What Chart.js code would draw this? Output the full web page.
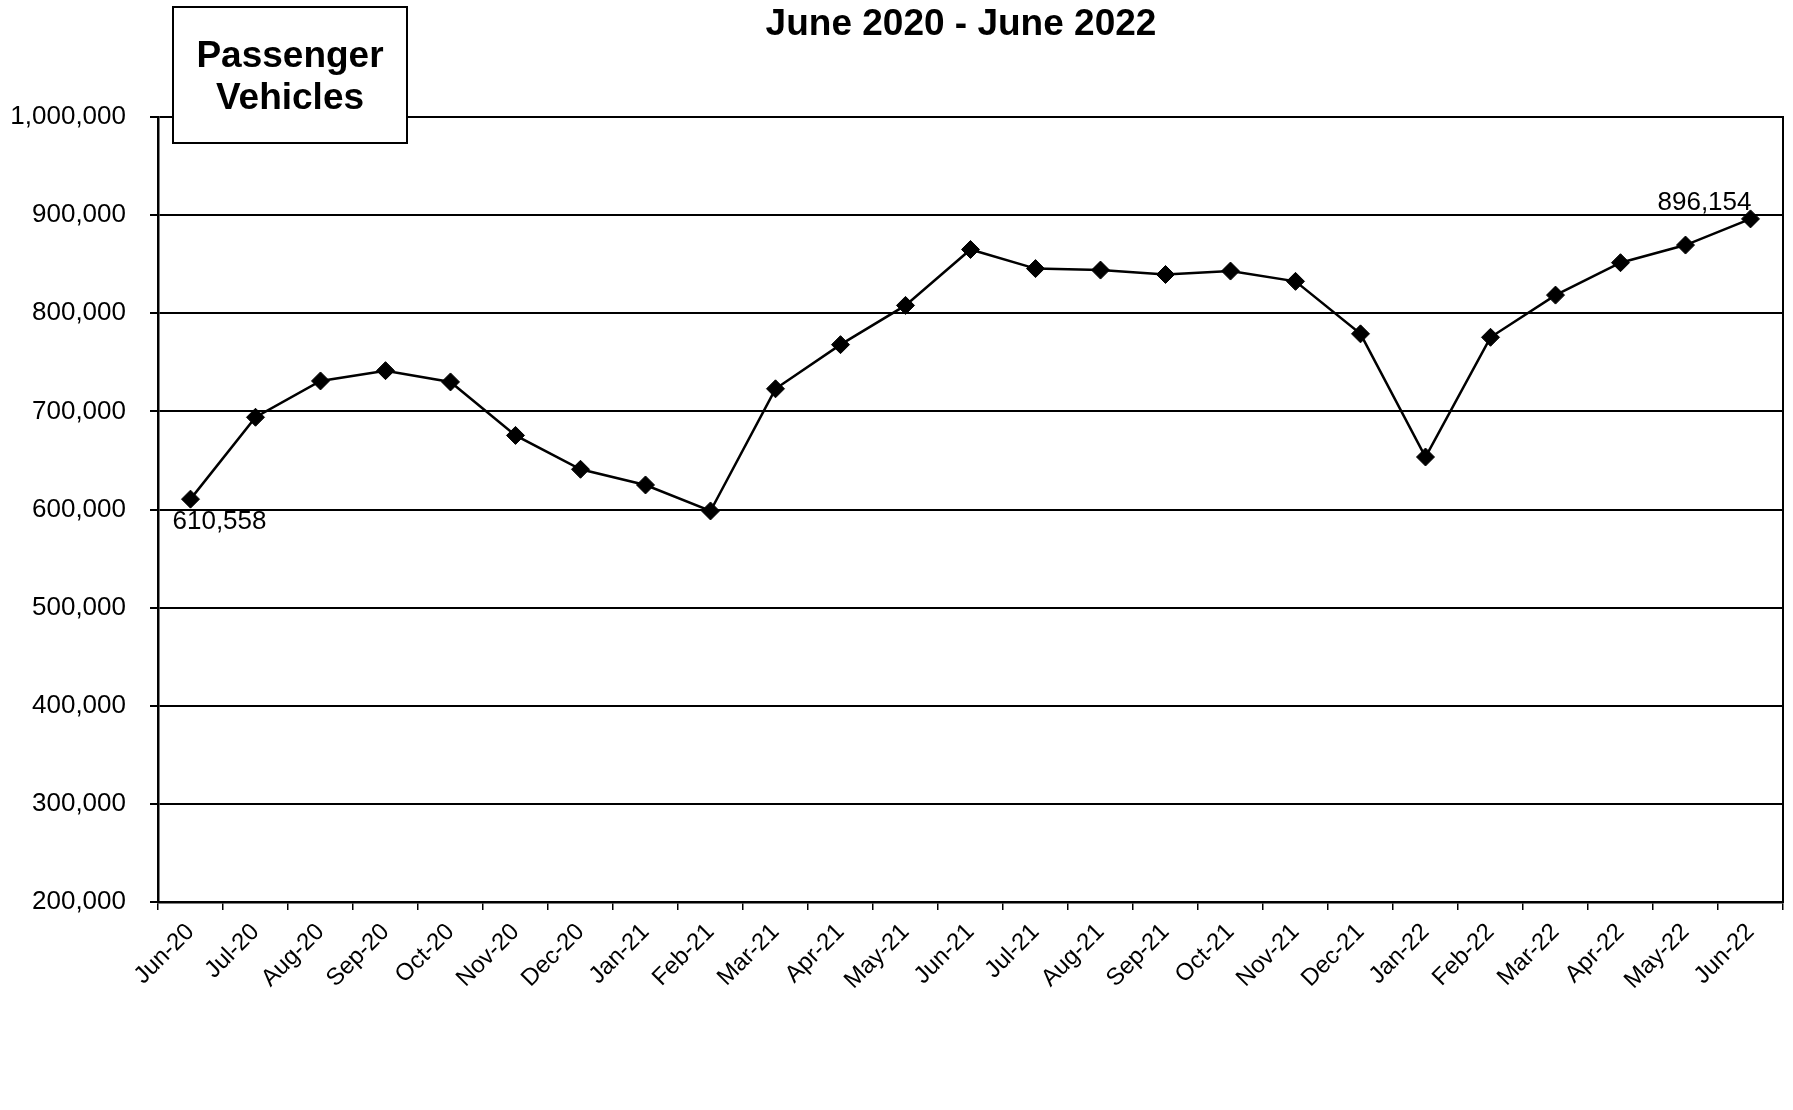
<!DOCTYPE html>
<html>
<head>
<meta charset="utf-8">
<script src="https://cdn.jsdelivr.net/npm/chart.js@4.4.0/dist/chart.umd.min.js"></script>
<style>
  html, body { margin: 0; padding: 0; background: #fff; }
  #wrap { width: 1793px; height: 1110px; }
</style>
</head>
<body>
<div id="wrap"><canvas id="c" width="1793" height="1110"></canvas></div>
<script>
const categories = ["Jun-20","Jul-20","Aug-20","Sep-20","Oct-20","Nov-20","Dec-20","Jan-21","Feb-21","Mar-21","Apr-21","May-21","Jun-21","Jul-21","Aug-21","Sep-21","Oct-21","Nov-21","Dec-21","Jan-22","Feb-22","Mar-22","Apr-22","May-22","Jun-22"];
const passengerVehicles = [610558, 694000, 731000, 741500, 730000, 675500, 641000, 625000, 598500, 723000, 768000, 808000, 865000, 845500, 844000, 839500, 843000, 832500, 779000, 653500, 775500, 818500, 851500, 869500, 896154];
const yTicks = [200000, 300000, 400000, 500000, 600000, 700000, 800000, 900000, 1000000];
const titleText = "June 2020 - June 2022";
const boxLines = ["Passenger", "Vehicles"];
const labelledPoints = [0, 24];

const FONT = "'Liberation Sans', Arial, Helvetica, sans-serif";
Chart.defaults.font.family = FONT;
Chart.defaults.color = "#000";

const fmt = v => v.toLocaleString("en-US");

const decorPlugin = {
  id: "decor",
  afterDraw(chart) {
    const ctx = chart.ctx;
    const a = chart.chartArea;
    ctx.save();
    // right border
    ctx.strokeStyle = "#000";
    ctx.lineWidth = 2;
    ctx.beginPath();
    ctx.moveTo(a.right, a.top - 1);
    ctx.lineTo(a.right, a.bottom + 1);
    ctx.stroke();

    // title
    ctx.fillStyle = "#000";
    ctx.font = "bold 37px " + FONT;
    ctx.textAlign = "center";
    ctx.textBaseline = "middle";
    ctx.fillText(titleText, 961, 25);

    // box
    const bx = 173, by = 7, bw = 234, bh = 136;
    ctx.fillStyle = "#fff";
    ctx.fillRect(bx, by, bw, bh);
    ctx.strokeStyle = "#000";
    ctx.lineWidth = 2;
    ctx.strokeRect(bx, by, bw, bh);
    ctx.fillStyle = "#000";
    ctx.font = "bold 37px " + FONT;
    ctx.fillText(boxLines[0], bx + bw / 2, 57);
    ctx.fillText(boxLines[1], bx + bw / 2, 99);

    // data labels
    const meta = chart.getDatasetMeta(0);
    ctx.font = "26px " + FONT;
    const p0 = meta.data[labelledPoints[0]];
    ctx.textAlign = "left";
    ctx.textBaseline = "middle";
    ctx.fillText(fmt(passengerVehicles[labelledPoints[0]]), p0.x - 18, p0.y + 23);
    const p1 = meta.data[labelledPoints[1]];
    ctx.textAlign = "right";
    ctx.fillText(fmt(passengerVehicles[labelledPoints[1]]), p1.x + 1, p1.y - 16);
    ctx.restore();
  }
};

new Chart(document.getElementById("c"), {
  type: "line",
  data: {
    labels: categories,
    datasets: [{
      label: "Passenger Vehicles",
      data: passengerVehicles,
      borderColor: "#000",
      backgroundColor: "#000",
      borderWidth: 2.5,
      tension: 0,
      pointStyle: "rectRot",
      pointRadius: 9,
      pointBorderWidth: 1,
      pointBackgroundColor: "#000",
      pointBorderColor: "#000",
      fill: false
    }]
  },
  options: {
    responsive: false,
    animation: false,
    devicePixelRatio: 1,
    layout: { padding: { top: 117, right: 9, left: 0, bottom: 0 } },
    plugins: {
      legend: { display: false },
      title: { display: false },
      tooltip: { enabled: false }
    },
    scales: {
      x: {
        type: "category",
        offset: true,
        grid: {
          display: true,
          offset: true,
          drawOnChartArea: false,
          drawTicks: true,
          tickLength: 8,
          color: "#000",
          lineWidth: 1.5
        },
        border: { display: true, color: "#000", width: 2.5 },
        ticks: {
          autoSkip: false,
          maxRotation: 45,
          minRotation: 45,
          padding: 8,
          font: { size: 24 },
          color: "#000"
        },
        afterFit(scale) { scale.height = 208; }
      },
      y: {
        min: 200000,
        max: 1000000,
        afterBuildTicks(scale) { scale.ticks = yTicks.map(v => ({ value: v })); },
        grid: {
          color: "#000",
          lineWidth: 2,
          drawTicks: true,
          tickLength: 8
        },
        border: { display: true, color: "#000", width: 2.5 },
        ticks: {
          padding: 24,
          font: { size: 26 },
          color: "#000",
          callback: v => fmt(v)
        },
        afterFit(scale) { scale.width = 158; }
      }
    }
  },
  plugins: [decorPlugin]
});
</script>
</body>
</html>
